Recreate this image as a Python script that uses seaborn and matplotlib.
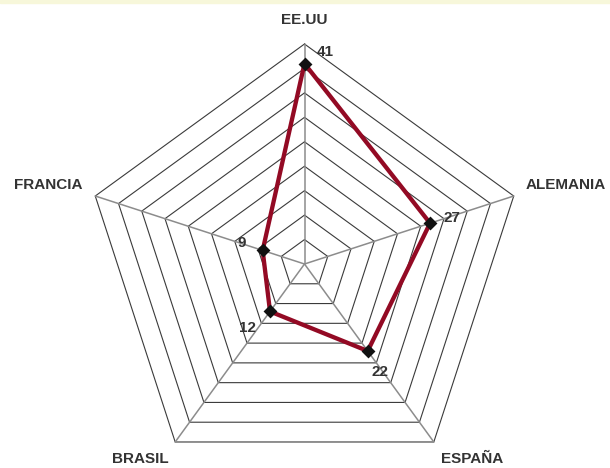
# -*- coding: utf-8 -*-
"""
Radar chart: values per country (pentagon web)
"""

import numpy as np
import matplotlib
matplotlib.use('Agg')
import matplotlib.pyplot as plt
import seaborn as sns
from matplotlib.patches import Rectangle

sns.set_style('white')
plt.rcParams['font.family'] = ['Liberation Sans', 'DejaVu Sans']

# data
countries = ['EE.UU', 'ALEMANIA', 'ESPAÑA', 'BRASIL', 'FRANCIA']
values = [41, 27, 22, 12, 9]
ring_levels = [5, 10, 15, 20, 25, 30, 35, 40, 45]

# label offsets in pixels (dx, dy, ha)
name_offsets = [(0, 24, 'center'), (12, 11, 'left'), (7, -17, 'left'),
                (-7, -17, 'right'), (-13, 11, 'right')]
value_offsets = [(12, 12, 'left'), (13, 5, 'left'), (12, -21, 'center'),
                 (-14, -17, 'right'), (-17, 7, 'right')]

TEXT_COLOR = '#333333'
LINE_COLOR = '#930a24'

n = len(countries)
theta = np.arange(n) * 2 * np.pi / n
theta_closed = np.append(theta, 2 * np.pi)

fig = plt.figure(figsize=(6.1, 4.68), dpi=100)
fig.patch.set_facecolor('white')
# light strip at the top
fig.add_artist(Rectangle((0, 1 - 3 / 468), 1, 3 / 468, transform=fig.transFigure,
                         color='#f7f7da', zorder=0))

R = 220  # px
cx, cy = 304.5, 264
ax = fig.add_axes([(cx - R) / 610, (468 - cy - R) / 468, 2 * R / 610, 2 * R / 468],
                  projection='polar')
ax.set_theta_offset(np.pi / 2)
ax.set_theta_direction(-1)
ax.set_ylim(0, ring_levels[-1])
ax.axis('off')

# pentagon web
for lvl in ring_levels:
    ax.plot(theta_closed, [lvl] * (n + 1), color='#3a3a3a', lw=0.8, clip_on=False, zorder=1)
for t in theta:
    ax.plot([t, t], [0, ring_levels[-1]], color='#8c8c8c', lw=1.1, clip_on=False, zorder=1)

# data line + markers
vals_closed = values + values[:1]
sns.lineplot(x=theta_closed, y=vals_closed, sort=False, estimator=None, ax=ax,
             color=LINE_COLOR, lw=3.1, zorder=3)
sns.scatterplot(x=theta, y=values, marker='D', s=50, color='#111111',
                edgecolor='#111111', linewidth=0, ax=ax, zorder=4)

# labels
for t, name, (dx, dy, ha) in zip(theta, countries, name_offsets):
    ax.annotate(name, xy=(t, ring_levels[-1]), xytext=(dx, dy), textcoords='offset pixels',
                ha=ha, va='center', fontsize=11, fontweight='bold', color=TEXT_COLOR,
                annotation_clip=False)
for t, v, (dx, dy, ha) in zip(theta, values, value_offsets):
    ax.annotate(str(v), xy=(t, v), xytext=(dx, dy), textcoords='offset pixels',
                ha=ha, va='center', fontsize=11, fontweight='bold', color=TEXT_COLOR,
                annotation_clip=False, zorder=5)

ax.set_xlabel('')
ax.set_ylabel('')

fig.savefig('out.png', dpi=100)
